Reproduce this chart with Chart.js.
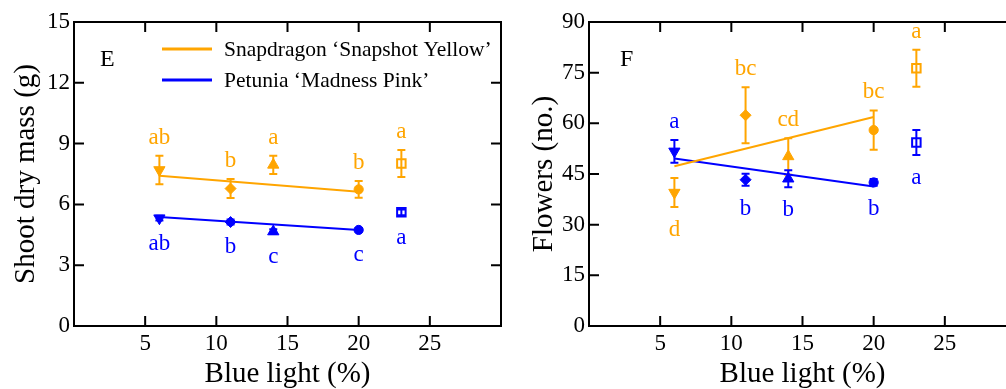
<!DOCTYPE html>
<html>
<head>
<meta charset="utf-8">
<script src="https://cdn.jsdelivr.net/npm/chart.js@4.4.0/dist/chart.umd.min.js"></script>
<style>
  html, body { margin: 0; padding: 0; background: #fff; overflow: hidden; }
  #wrap { position: relative; width: 1006px; height: 389px; overflow: hidden; }
  canvas { position: absolute; top: 0; }
  #chartE { left: 0; }
  #chartF { left: 503px; }
</style>
</head>
<body>
<div id="wrap">
  <canvas id="chartE" width="503" height="389"></canvas>
  <canvas id="chartF" width="515" height="389"></canvas>
</div>
<script>
// values
const blueLight = [6, 11, 14, 20, 23];
const xTicks = [5, 10, 15, 20, 25];
const seriesNames = ["Snapdragon \u2018Snapshot Yellow\u2019", "Petunia \u2018Madness Pink\u2019"];

// E: shoot dry mass (g)
const massSnap = [7.70, 6.78, 7.95, 6.74, 8.02];
const massSnapErr = [0.70, 0.47, 0.45, 0.41, 0.67];
const massPet = [5.32, 5.13, 4.66, 4.74, 5.61];
const massPetErr = [0.12, 0.12, 0.12, 0.08, 0.14];
const massSnapTrend = [7.41, 6.63];   // at x = 6 and 20
const massPetTrend = [5.38, 4.74];
const massSnapLetters = ["ab", "b", "a", "b", "a"];
const massPetLetters = ["ab", "b", "c", "c", "a"];

// F: flowers (no.)
const flowSnap = [39.5, 62.4, 50.2, 58.0, 76.3];
const flowSnapErr = [4.3, 8.3, 5.4, 5.8, 5.5];
const flowPet = [51.7, 43.3, 43.6, 42.5, 54.3];
const flowPetErr = [3.4, 1.8, 2.5, 1.0, 3.7];
const flowSnapTrend = [47.3, 61.9];
const flowPetTrend = [49.6, 41.3];
const flowSnapLetters = ["d", "bc", "cd", "bc", "a"];
const flowPetLetters = ["a", "b", "b", "b", "a"];
const flowSnapSide = ["below", "above", "above", "above", "above"];
const flowPetSide = ["above", "below", "below", "below", "below"];

const trendX = [6, 20];
const ORANGE = "#FFA500";
const BLUE = "#0000FF";
const FONT = "'Liberation Serif', 'DejaVu Serif', serif";

Chart.defaults.font.family = FONT;
Chart.defaults.color = "#000";

const pointStyles = ["triangle", "rectRot", "triangle", "circle", "rect"];
const pointRot = [180, 0, 0, 0, 0];
const pointSizes = [6.5, 5.5, 6.5, 4.6, 6];

function points(xs, ys) {
  return xs.map((x, i) => ({ x: x, y: ys[i] }));
}

// frame, inward ticks, error bars, letters, legend
const panelDecor = {
  id: "panelDecor",
  beforeDatasetsDraw(chart, args, opts) {
    const ctx = chart.ctx;
    const { left, right, top, bottom } = chart.chartArea;
    const xs = chart.scales.x, ys = chart.scales.y;
    ctx.save();
    ctx.strokeStyle = "#000";
    ctx.lineWidth = 2;
    ctx.strokeRect(left, top, right - left, bottom - top);
    ctx.beginPath();
    xs.ticks.forEach(t => {
      const px = xs.getPixelForValue(t.value);
      ctx.moveTo(px, bottom); ctx.lineTo(px, bottom - 10);
      ctx.moveTo(px, top); ctx.lineTo(px, top + 10);
    });
    ys.ticks.forEach(t => {
      const py = ys.getPixelForValue(t.value);
      ctx.moveTo(left, py); ctx.lineTo(left + 10, py);
      ctx.moveTo(right, py); ctx.lineTo(right - 10, py);
    });
    ctx.stroke();

    opts.groups.forEach(g => {
      ctx.strokeStyle = g.color;
      ctx.lineWidth = 2;
      ctx.beginPath();
      blueLight.forEach((xv, i) => {
        const px = xs.getPixelForValue(xv);
        const hi = ys.getPixelForValue(g.y[i] + g.err[i]);
        const lo = ys.getPixelForValue(g.y[i] - g.err[i]);
        ctx.moveTo(px, hi); ctx.lineTo(px, lo);
        ctx.moveTo(px - 4, hi); ctx.lineTo(px + 4, hi);
        ctx.moveTo(px - 4, lo); ctx.lineTo(px + 4, lo);
      });
      ctx.stroke();
    });
    ctx.restore();
  },
  afterDatasetsDraw(chart, args, opts) {
    const ctx = chart.ctx;
    const { left, top } = chart.chartArea;
    const xs = chart.scales.x, ys = chart.scales.y;
    ctx.save();
    ctx.textAlign = "center";
    ctx.textBaseline = "alphabetic";
    ctx.font = "23px " + FONT;
    opts.groups.forEach(g => {
      ctx.fillStyle = g.color;
      blueLight.forEach((xv, i) => {
        const px = xs.getPixelForValue(xv);
        let py;
        if (g.side[i] === "above") py = ys.getPixelForValue(g.y[i] + g.err[i]) - 12;
        else py = ys.getPixelForValue(g.y[i] - g.err[i]) + 29;
        ctx.fillText(g.letters[i], px, py);
      });
    });

    // panel letter
    ctx.fillStyle = "#000";
    ctx.textAlign = "left";
    ctx.font = "24px " + FONT;
    ctx.fillText(opts.panel, left + opts.panelOffset, top + 44);

    if (opts.legend) {
      ctx.font = "21.5px " + FONT;
      ctx.textBaseline = "middle";
      [ORANGE, BLUE].forEach((c, i) => {
        const ly = top + 27 + i * 31;
        ctx.strokeStyle = c;
        ctx.lineWidth = 3;
        ctx.beginPath();
        ctx.moveTo(left + 88, ly); ctx.lineTo(left + 138, ly);
        ctx.stroke();
        ctx.fillStyle = "#000";
        ctx.fillText(seriesNames[i], left + 150, ly + 1);
      });
    }
    ctx.restore();
  }
};

function makeChart(id, cfg) {
  const markerSet = (ys, color, label) => ({
    label: label,
    data: points(blueLight, ys),
    pointStyle: pointStyles,
    rotation: pointRot,
    radius: pointSizes,
    backgroundColor: pointStyles.map(s => s === "rect" ? "rgba(0,0,0,0)" : color),
    borderColor: color,
    borderWidth: pointStyles.map(s => s === "rect" ? 2 : 1),
    showLine: false
  });
  const trendSet = (ys, color) => ({
    data: points(trendX, ys),
    borderColor: color,
    borderWidth: 2,
    pointRadius: 0,
    showLine: true
  });

  return new Chart(document.getElementById(id), {
    type: "scatter",
    data: {
      datasets: [
        trendSet(cfg.snapTrend, ORANGE),
        trendSet(cfg.petTrend, BLUE),
        markerSet(cfg.snap, ORANGE, seriesNames[0]),
        markerSet(cfg.pet, BLUE, seriesNames[1])
      ]
    },
    options: {
      responsive: false,
      animation: false,
      devicePixelRatio: 1,
      layout: { autoPadding: false, padding: { top: 22, right: 2, left: 0, bottom: 0 } },
      plugins: {
        legend: { display: false },
        tooltip: { enabled: false },
        panelDecor: {
          panel: cfg.panel,
          panelOffset: cfg.panelOffset,
          legend: cfg.legend,
          groups: [
            { color: ORANGE, y: cfg.snap, err: cfg.snapErr, letters: cfg.snapLetters, side: cfg.snapSide },
            { color: BLUE, y: cfg.pet, err: cfg.petErr, letters: cfg.petLetters, side: cfg.petSide }
          ]
        }
      },
      scales: {
        x: {
          type: "linear",
          min: 0,
          max: 30,
          afterBuildTicks: s => { s.ticks = xTicks.map(v => ({ value: v })); },
          afterFit: s => { s.height = 63; },
          grid: { display: false, drawTicks: false },
          border: { display: false },
          ticks: {
            autoSkip: false,
            maxRotation: 0,
            padding: 4,
            font: { size: 23 },
            color: "#000"
          },
          title: {
            display: true,
            text: "Blue light (%)",
            font: { size: 29, lineHeight: 1.1 },
            color: "#000",
            padding: { top: 0, bottom: -1 }
          }
        },
        y: {
          min: 0,
          max: cfg.yMax,
          afterFit: s => { s.width = cfg.yWidth; },
          grid: { display: false, drawTicks: false },
          border: { display: false },
          ticks: {
            stepSize: cfg.yStep,
            padding: 4,
            font: { size: 23 },
            color: "#000"
          },
          title: {
            display: true,
            text: cfg.yTitle,
            font: { size: 29, lineHeight: 1.2 },
            color: "#000",
            padding: { top: cfg.yTitlePad, bottom: 0 }
          }
        }
      }
    },
    plugins: [panelDecor]
  });
}

makeChart("chartE", {
  panel: "E", panelOffset: 26, legend: true,
  snap: massSnap, snapErr: massSnapErr, pet: massPet, petErr: massPetErr,
  snapTrend: massSnapTrend, petTrend: massPetTrend,
  snapLetters: massSnapLetters, petLetters: massPetLetters,
  snapSide: massSnapLetters.map(() => "above"), petSide: massPetLetters.map(() => "below"),
  yMax: 15, yStep: 3, yWidth: 74, yTitle: "Shoot dry mass (g)", yTitlePad: 9
});

makeChart("chartF", {
  panel: "F", panelOffset: 31, legend: false,
  snap: flowSnap, snapErr: flowSnapErr, pet: flowPet, petErr: flowPetErr,
  snapTrend: flowSnapTrend, petTrend: flowPetTrend,
  snapLetters: flowSnapLetters, petLetters: flowPetLetters,
  snapSide: flowSnapSide, petSide: flowPetSide,
  yMax: 90, yStep: 15, yWidth: 86, yTitle: "Flowers (no.)", yTitlePad: 24
});
</script>
</body>
</html>
